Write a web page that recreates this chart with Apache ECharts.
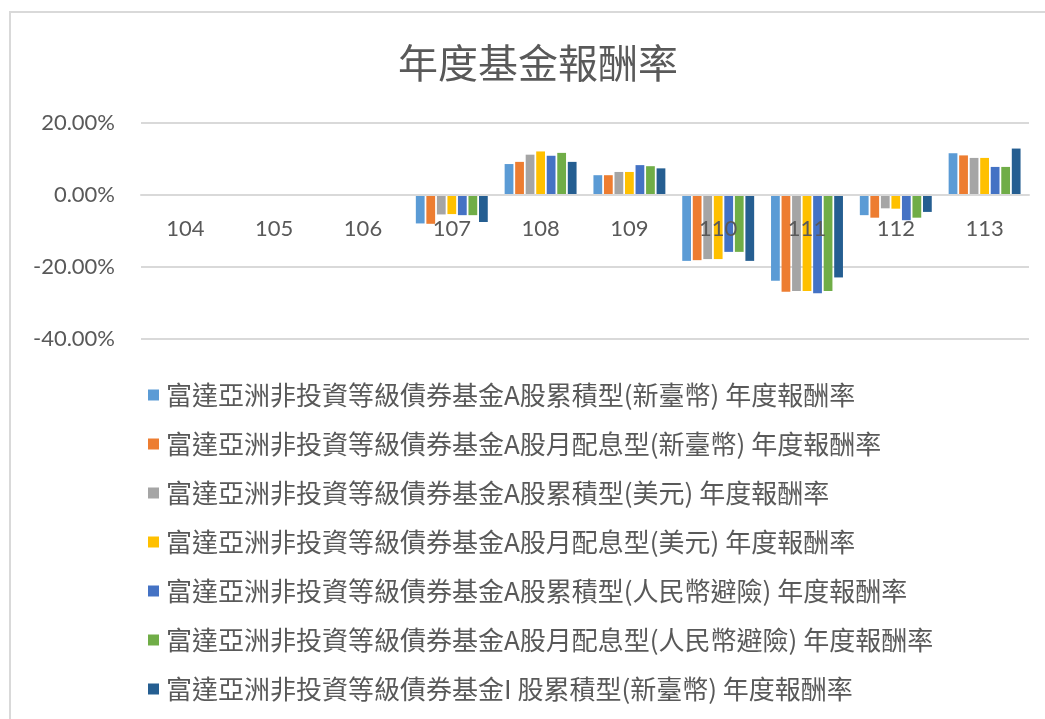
<!DOCTYPE html>
<html>
<head>
<meta charset="utf-8">
<script src="https://cdn.jsdelivr.net/npm/echarts@6/dist/echarts.min.js"></script>
<style>
html,body{margin:0;padding:0;background:#fff;}
#frame{position:absolute;left:9px;top:11px;width:1040px;height:712px;border-left:2px solid #D9D9D9;border-top:2px solid #D9D9D9;}
#chart{position:absolute;left:0;top:0;width:1045px;height:719px;}
</style>
</head>
<body>
<div id="frame"></div>
<div id="chart"></div>
<script>
var categories = ['104','105','106','107','108','109','110','111','112','113'];
var seriesNames = [
  '富達亞洲非投資等級債券基金A股累積型(新臺幣) 年度報酬率',
  '富達亞洲非投資等級債券基金A股月配息型(新臺幣) 年度報酬率',
  '富達亞洲非投資等級債券基金A股累積型(美元) 年度報酬率',
  '富達亞洲非投資等級債券基金A股月配息型(美元) 年度報酬率',
  '富達亞洲非投資等級債券基金A股累積型(人民幣避險) 年度報酬率',
  '富達亞洲非投資等級債券基金A股月配息型(人民幣避險) 年度報酬率',
  '富達亞洲非投資等級債券基金I 股累積型(新臺幣) 年度報酬率'
];
var aAccTwd   = [null, null, null, -7.9, 8.6, 5.5, -18.3, -23.8, -5.6, 11.6];
var aDivTwd   = [null, null, null, -8.0, 9.2, 5.5, -18.1, -26.9, -6.3, 11.0];
var aAccUsd   = [null, null, null, -5.4, 11.2, 6.4, -17.8, -26.7, -3.7, 10.3];
var aDivUsd   = [null, null, null, -5.3, 12.1, 6.4, -17.8, -26.7, -3.8, 10.3];
var aAccCnh   = [null, null, null, -5.6, 10.9, 8.3, -15.8, -27.3, -7.0, 7.8];
var aDivCnh   = [null, null, null, -5.6, 11.7, 8.0, -15.8, -26.7, -6.3, 7.8];
var iAccTwd   = [null, null, null, -7.5, 9.2, 7.4, -18.3, -22.9, -4.7, 12.9];
var yTicks = [-40, -20, 0, 20];

var allData = [aAccTwd, aDivTwd, aAccUsd, aDivUsd, aAccCnh, aDivCnh, iAccTwd];
var colors = ['#5B9BD5','#ED7D31','#A5A5A5','#FFC000','#4472C4','#70AD47','#255E91'];

var gridTop = 123, gridHeight = 216;
var yMin = yTicks[0], yMax = yTicks[yTicks.length-1];
var zeroOffset = -gridHeight * (0 - yMin) / (yMax - yMin);

var chart = echarts.init(document.getElementById('chart'), null, {renderer:'canvas'});
var option = {
  backgroundColor: 'transparent',
  animation: false,
  color: colors,
  title: {
    text: '年度基金報酬率',
    left: 393,
    top: 38,
    textStyle: {fontFamily: '"Noto Sans CJK TC"', fontSize: 40, fontWeight: 'normal', color: '#595959'}
  },
  grid: {left: 141, right: 16, top: gridTop, height: gridHeight},
  legend: {
    orient: 'vertical',
    left: 143,
    top: 375,
    itemWidth: 11,
    itemHeight: 11,
    itemGap: 19,
    icon: 'rect',
    data: seriesNames,
    textStyle: {fontFamily: '"Noto Sans CJK TC"', fontSize: 26, lineHeight: 30, color: '#595959', padding: [0,0,0,2]}
  },
  xAxis: {
    type: 'category',
    data: categories,
    position: 'bottom',
    offset: zeroOffset,
    z: 10,
    axisLine: {onZero: false, lineStyle: {color: '#D9D9D9', width: 2}},
    axisTick: {show: false},
    axisLabel: {margin: 23, fontFamily: 'Lato', fontSize: 22, color: '#595959'}
  },
  yAxis: {
    type: 'value',
    min: yMin,
    max: yMax,
    interval: 20,
    axisLine: {show: false},
    axisTick: {show: false},
    splitLine: {lineStyle: {color: '#D9D9D9', width: 2}},
    axisLabel: {margin: 26, fontFamily: 'Lato', fontSize: 22, color: '#595959',
      formatter: function(v){ return v.toFixed(2) + '%'; }}
  },
  series: seriesNames.map(function(n, i){
    return {name: n, type: 'bar', data: allData[i], barGap: '20%', barCategoryGap: '19%'};
  })
};
chart.setOption(option);
</script>
</body>
</html>
